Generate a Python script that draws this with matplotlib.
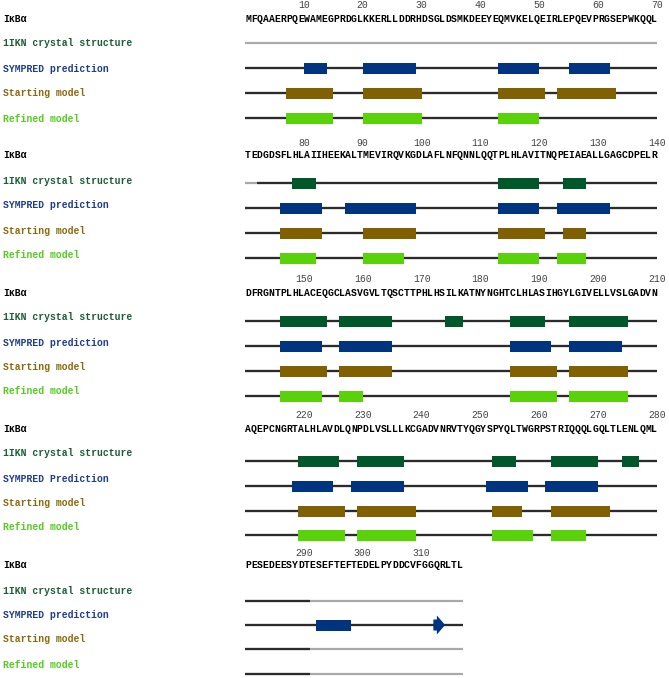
#!/usr/bin/env python3
import matplotlib
matplotlib.use("Agg")
import matplotlib.pyplot as plt

# IkBa sequence, 317 residues, shown 70 per block
SEQUENCE = ("MFQAAERPQEWAMEGPRDGLKKERLLDDRHDSGLDSMKDEEYEQMVKELQEIRLEPQEVPRGSEPWKQQL"
            "TEDGDSFLHLAIIHEEKALTMEVIRQVKGDLAFLNFQNNLQQTPLHLAVITNQPEIAEALLGAGCDPELR"
            "DFRGNTPLHLACEQGCLASVGVLTQSCTTPHLHSILKATNYNGHTCLHLASIHGYLGIVELLVSLGADVN"
            "AQEPCNGRTALHLAVDLQNPDLVSLLLKCGADVNRVTYQGYSPYQLTWGRPSTRIQQQLGQLTLENLQML"
            "PESEDEESYDTESEFTEFTEDELPYDDCVFGGQRLTL")
BLOCK_LEN = 70

TRACK_NAMES = ["1IKN crystal structure", "SYMPRED prediction", "Starting model", "Refined model"]
TRACK_NAMES_BLOCK4 = ["1IKN crystal structure", "SYMPRED Prediction", "Starting model", "Refined model"]

# residues covered by each model (dark line); the rest is drawn light grey
MODELED = [(73, 291), (1, 317), (1, 291), (1, 291)]

# helices (start, end) in residue numbers
CRYSTAL_HELICES = [(79, 82), (114, 120), (125, 128), (147, 154), (157, 165), (175, 177),
                   (186, 191), (196, 205), (220, 226), (230, 237), (253, 256), (263, 270),
                   (275, 277)]
SYMPRED_HELICES = [(11, 14), (21, 29), (44, 50), (56, 62), (77, 83), (88, 99), (114, 120),
                   (124, 132), (147, 153), (157, 165), (186, 192), (196, 204), (219, 225),
                   (229, 237), (252, 258), (262, 270), (293, 298)]
STARTING_HELICES = [(8, 15), (21, 30), (44, 51), (54, 63), (77, 83), (91, 99), (114, 121),
                    (125, 128), (147, 154), (157, 165), (186, 193), (196, 205), (220, 227),
                    (230, 239), (253, 257), (263, 272)]
REFINED_HELICES = [(8, 15), (21, 30), (44, 50), (77, 82), (91, 97), (114, 120), (124, 128),
                   (147, 153), (157, 160), (186, 193), (196, 205), (220, 227), (230, 239),
                   (253, 259), (263, 268)]
HELICES = [CRYSTAL_HELICES, SYMPRED_HELICES, STARTING_HELICES, REFINED_HELICES]
SYMPRED_STRANDS = [(313, 314)]

BOX_COLORS = ["#00572a", "#003380", "#806000", "#5ad20a"]
LABEL_COLORS = ["#1e5e3a", "#1f3d8a", "#8a6a10", "#55cc22"]
DARK = "#2b2b2b"
LIGHT = "#a9a9a9"

# layout (pixels from top)
W, H = 669, 678
X_LEFT = 245
RES_W = 5.886
NUM_Y = [5, 142, 278, 415, 552]
SEQ_Y = [18, 155, 292, 429, 564]
LABEL_Y = [(43, 68, 93, 118), (180, 205, 230, 255), (317, 342, 367, 391),
           (453, 478, 503, 527), (590, 615, 639, 664)]
TRACK_Y = [(43, 68, 93, 118), (183, 208, 233, 258), (321, 346, 371, 396),
           (461, 486, 511, 535), (601, 625, 649, 674)]
BOX_H = 11
FS = 7.06
FONT = "Liberation Mono"


def clip(segments, lo, hi):
    out = []
    for a, b in segments:
        a2, b2 = max(a, lo), min(b, hi)
        if a2 <= b2:
            out.append((a2, b2))
    return out


fig = plt.figure(figsize=(W / 100, H / 100), dpi=100)
base = fig.add_axes([0, 0, 1, 1])
base.set_xlim(0, W)
base.set_ylim(H, 0)
base.axis("off")

n_blocks = (len(SEQUENCE) + BLOCK_LEN - 1) // BLOCK_LEN
for b in range(n_blocks):
    start = b * BLOCK_LEN + 1
    stop = min(start + BLOCK_LEN - 1, len(SEQUENCE))

    # left labels
    base.text(3, SEQ_Y[b] + 3.5, "IκBα", fontsize=FS, fontweight="bold", family=FONT,
              color="black", va="baseline", ha="left")
    names = TRACK_NAMES_BLOCK4 if b == 3 else TRACK_NAMES
    for name, ly, col in zip(names, LABEL_Y[b], LABEL_COLORS):
        base.text(3, ly + 3.5, name, fontsize=FS, fontweight="bold", family=FONT,
                  color=col, va="baseline", ha="left")

    ax = fig.add_axes([X_LEFT / W, 0, BLOCK_LEN * RES_W / W, 1])
    ax.set_xlim(start - 1, start - 1 + BLOCK_LEN)
    ax.set_ylim(H, 0)
    ax.axis("off")

    # residue numbers and sequence
    for k in range(start, stop + 1):
        if k % 10 == 0:
            ax.text(k, NUM_Y[b] + 3.5, str(k), fontsize=FS, family=FONT, color="#444444",
                    ha="center", va="baseline")
    for i, ch in enumerate(SEQUENCE[start - 1:stop]):
        ax.text(start - 0.5 + i, SEQ_Y[b] + 3.5, ch, fontsize=FS, fontweight="bold",
                family=FONT, color="black", ha="center", va="baseline")

    # tracks
    for t in range(4):
        y = TRACK_Y[b][t]
        ax.plot([start - 1.3, stop], [y, y], color=LIGHT, lw=1.6, solid_capstyle="butt", zorder=1)
        for a, e in clip([MODELED[t]], start, stop):
            x0 = a - 1.3 if a == start else a - 1
            ax.plot([x0, e], [y, y], color=DARK, lw=1.6, solid_capstyle="butt", zorder=2)
        segs = clip(HELICES[t], start, stop)
        if segs:
            ax.broken_barh([(a - 1, e - a + 1) for a, e in segs], (y - BOX_H / 2, BOX_H),
                           facecolors=BOX_COLORS[t], edgecolor="none", zorder=3)
        if t == 1:
            for a, e in clip(SYMPRED_STRANDS, start, stop):
                head = 1.4
                xs = [a - 1, e - head, e - head, e, e - head, e - head, a - 1]
                ys = [y - BOX_H / 2, y - BOX_H / 2, y - 9.5, y, y + 9.5, y + BOX_H / 2, y + BOX_H / 2]
                ax.fill(xs, ys, color=BOX_COLORS[t], zorder=3, lw=0)

fig.savefig("out.png", dpi=100)
